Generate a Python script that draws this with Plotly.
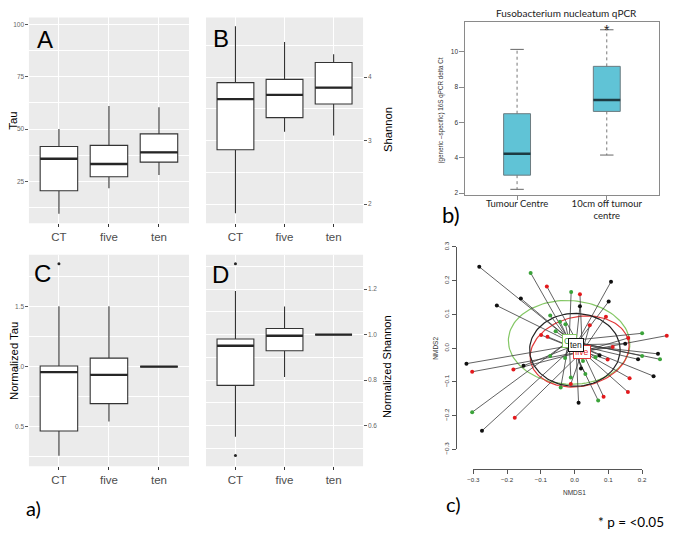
import numpy as np
import plotly.graph_objects as go

W, H = 675, 536

# ---------------- data ----------------
groups = ["CT", "five", "ten"]
group_pos = [1, 2, 3]

# Panel A: Tau
tau_q1 = [20.5, 27.2, 34.2]
tau_med = [35.8, 33.3, 38.9]
tau_q3 = [41.7, 42.2, 47.7]
tau_lo = [9.5, 21.7, 28.0]
tau_hi = [50.0, 61.1, 60.5]

# Panel B: Shannon
sh_q1 = [2.858, 3.363, 3.579]
sh_med = [3.656, 3.722, 3.836]
sh_q3 = [3.914, 3.965, 4.231]
sh_lo = [1.855, 3.142, 3.080]
sh_hi = [4.802, 4.556, 4.361]

# Panel C: Normalized Tau
ntau_q1 = [0.466, 0.693, 1.0]
ntau_med = [0.954, 0.932, 1.0]
ntau_q3 = [1.005, 1.070, 1.0]
ntau_lo = [0.260, 0.545, 1.0]
ntau_hi = [1.500, 1.500, 1.0]
ntau_out_pos = [1]
ntau_out_val = [1.854]

# Panel D: Normalized Shannon
nsh_q1 = [0.777, 0.929, 1.0]
nsh_med = [0.951, 0.995, 1.0]
nsh_q3 = [0.981, 1.027, 1.0]
nsh_lo = [0.551, 0.814, 1.0]
nsh_hi = [1.191, 1.123, 1.0]
nsh_out_pos = [1, 1]
nsh_out_val = [1.311, 0.469]

# Panel b: qPCR
qpcr_cats = ["Tumour Centre", "10cm off tumour<br>centre"]
qpcr_pos = [1, 2]
qpcr_q1 = [3.01, 6.62]
qpcr_med = [4.22, 7.27]
qpcr_q3 = [6.49, 9.17]
qpcr_lo = [2.21, 4.15]
qpcr_hi = [10.13, 11.24]

# Panel c: NMDS
ten_x = [-0.283, -0.160, -0.231, 0.107, 0.100, 0.015, 0.149, 0.246, 0.187, 0.233,
         -0.321, -0.152, -0.275, 0.011, 0.018, 0.073]
ten_y = [0.241, 0.147, 0.126, 0.197, 0.138, 0.124, 0.013, -0.017, -0.033, -0.083,
         -0.046, -0.052, -0.245, -0.162, -0.060, -0.021]
five_x = [-0.083, 0.015, 0.044, 0.092, -0.100, -0.081, 0.158, 0.272, 0.112, 0.097,
          -0.304, -0.182, 0.162, 0.157, 0.085, -0.012, -0.178]
five_y = [0.183, 0.160, 0.068, 0.093, 0.039, 0.034, 0.030, 0.037, 0.003, -0.034,
          -0.070, -0.063, -0.089, -0.130, -0.144, -0.106, -0.206]
ct_x = [-0.131, -0.011, -0.073, -0.044, -0.028, -0.057, 0.199, 0.199, 0.252, -0.073,
        -0.029, 0.024, 0.031, -0.012, -0.042, 0.069, -0.304, 0.061]
ct_y = [0.223, 0.166, 0.097, 0.078, 0.071, 0.050, 0.044, -0.023, -0.033, -0.023,
        -0.029, -0.038, -0.077, -0.087, -0.117, -0.155, -0.190, -0.027]
centroid_names = ["CT", "five", "ten"]
centroid_x = [-0.017, 0.022, 0.003]
centroid_y = [0.022, -0.010, 0.010]
ell_cx = [-0.017, 0.014, 0.000]
ell_cy = [0.017, -0.010, -0.005]
ell_rx = [0.180, 0.148, 0.134]
ell_ry = [0.124, 0.103, 0.108]
ell_ang = [-3.0, 12.0, 0.0]

# ---------------- helpers ----------------
def fx(px):
    return px / W

def fy(py):
    return 1 - py / H

fig = go.Figure()

GG_FONT = "Liberation Sans, Arial, sans-serif"
R_FONT = "Lato, Liberation Sans, sans-serif"


def add_gg_panel(xa, ya, q1, med, q3, lo, hi, out_pos=None, out_val=None):
    for i in range(len(groups)):
        pos = group_pos[i]
        fig.add_trace(go.Box(
            x=[pos], q1=[q1[i]], median=[med[i]], q3=[q3[i]],
            lowerfence=[lo[i]], upperfence=[hi[i]], width=0.75, whiskerwidth=0,
            fillcolor="white", line=dict(color="#333333", width=1.1),
            boxpoints=False, xaxis=xa, yaxis=ya, showlegend=False, hoverinfo="skip"))
        fig.add_trace(go.Scatter(
            x=[pos - 0.375, pos + 0.375], y=[med[i], med[i]], mode="lines",
            line=dict(color="#262626", width=2.3), xaxis=xa, yaxis=ya,
            showlegend=False, hoverinfo="skip"))
    if out_pos:
        fig.add_trace(go.Scatter(
            x=out_pos, y=out_val, mode="markers",
            marker=dict(color="#262626", size=3), xaxis=xa, yaxis=ya,
            showlegend=False, hoverinfo="skip"))


add_gg_panel("x", "y", tau_q1, tau_med, tau_q3, tau_lo, tau_hi)
add_gg_panel("x2", "y2", sh_q1, sh_med, sh_q3, sh_lo, sh_hi)
add_gg_panel("x3", "y3", ntau_q1, ntau_med, ntau_q3, ntau_lo, ntau_hi, ntau_out_pos, ntau_out_val)
add_gg_panel("x4", "y4", nsh_q1, nsh_med, nsh_q3, nsh_lo, nsh_hi, nsh_out_pos, nsh_out_val)

# ---- qPCR panel ----
for i in range(2):
    pos = qpcr_pos[i]
    fig.add_trace(go.Scatter(
        x=[pos, pos, None, pos, pos], y=[qpcr_q3[i], qpcr_hi[i], None, qpcr_q1[i], qpcr_lo[i]],
        mode="lines", line=dict(color="#777777", width=1, dash="dot"),
        xaxis="x5", yaxis="y5", showlegend=False, hoverinfo="skip"))
    fig.add_trace(go.Scatter(
        x=[pos - 0.075, pos + 0.075, None, pos - 0.075, pos + 0.075],
        y=[qpcr_hi[i], qpcr_hi[i], None, qpcr_lo[i], qpcr_lo[i]],
        mode="lines", line=dict(color="#666666", width=1),
        xaxis="x5", yaxis="y5", showlegend=False, hoverinfo="skip"))
    fig.add_trace(go.Box(
        x=[pos], q1=[qpcr_q1[i]], median=[qpcr_med[i]], q3=[qpcr_q3[i]],
        lowerfence=[qpcr_q1[i]], upperfence=[qpcr_q3[i]], width=0.30, whiskerwidth=0,
        fillcolor="#60C3D6", line=dict(color="#6b7b80", width=1),
        boxpoints=False, xaxis="x5", yaxis="y5", showlegend=False, hoverinfo="skip"))
    fig.add_trace(go.Scatter(
        x=[pos - 0.15, pos + 0.15], y=[qpcr_med[i], qpcr_med[i]], mode="lines",
        line=dict(color="#1d3b42", width=2.6), xaxis="x5", yaxis="y5",
        showlegend=False, hoverinfo="skip"))

# ---- NMDS panel ----
grp_x = [ct_x, five_x, ten_x]
grp_y = [ct_y, five_y, ten_y]
pt_colors = ["#3BA33A", "#E3191C", "#111111"]
ell_colors = ["#84C765", "#E23A3A", "#222222"]

# decoration axes trace (empty) - drawn first
fig.add_trace(go.Scatter(x=[None], y=[None], xaxis="x7", yaxis="y7", showlegend=False,
                         hoverinfo="skip"))

# ellipses
for g in range(3):
    t = np.linspace(0, 2 * np.pi, 120)
    a = np.deg2rad(ell_ang[g])
    ex = ell_cx[g] + ell_rx[g] * np.cos(t) * np.cos(a) - ell_ry[g] * np.sin(t) * np.sin(a)
    ey = ell_cy[g] + ell_rx[g] * np.cos(t) * np.sin(a) + ell_ry[g] * np.sin(t) * np.cos(a)
    fig.add_trace(go.Scatter(x=ex, y=ey, mode="lines",
                             line=dict(color=ell_colors[g], width=1.2),
                             xaxis="x6", yaxis="y6", showlegend=False, hoverinfo="skip"))
# spiders
for g in range(3):
    sx, sy = [], []
    for px_, py_ in zip(grp_x[g], grp_y[g]):
        sx += [px_, centroid_x[g], None]
        sy += [py_, centroid_y[g], None]
    fig.add_trace(go.Scatter(x=sx, y=sy, mode="lines",
                             line=dict(color="#3a3a3a", width=0.8),
                             xaxis="x6", yaxis="y6", showlegend=False, hoverinfo="skip"))
for g in range(3):
    fig.add_trace(go.Scatter(x=grp_x[g], y=grp_y[g], mode="markers",
                             marker=dict(color=pt_colors[g], size=4),
                             xaxis="x6", yaxis="y6", showlegend=False, hoverinfo="skip",
                             cliponaxis=False))

# ---------------- axes ----------------
def gg_xaxis(dom, anchor):
    return dict(domain=dom, anchor=anchor, range=[0.4, 3.6], tickmode="array",
                tickvals=group_pos, ticktext=groups, showgrid=True, gridcolor="white",
                gridwidth=1.1, zeroline=False, showline=False, ticks="outside", ticklen=3,
                tickwidth=0.8, tickcolor="#333333", ticklabelstandoff=0,
                tickfont=dict(family=GG_FONT, size=11.5, color="#4D4D4D"))


def gg_yaxis(dom, anchor, rng, dtick, mdtick, side="left", fmt=None):
    d = dict(domain=dom, anchor=anchor, range=rng, tick0=0, dtick=dtick, side=side,
             showgrid=True, gridcolor="white", gridwidth=1.1, zeroline=False,
             showline=False, ticks="outside", ticklen=2.5, tickwidth=0.8,
             tickcolor="#555555", tickfont=dict(family=GG_FONT, size=6.5, color="#666666"),
             minor=dict(tick0=0, dtick=mdtick, showgrid=True, gridcolor="white",
                        gridwidth=0.5))
    if fmt:
        d["tickformat"] = fmt
    return d


xA = [fx(23.3), fx(186.0)]
xB = [fx(203.3), fx(363.0)]
yTop = [fy(221.7), fy(11.7)]
yBot = [fy(470.0), fy(254.0)]

layout = dict(
    width=W, height=H, margin=dict(l=0, r=0, t=0, b=0),
    paper_bgcolor="white", plot_bgcolor="rgba(0,0,0,0)", showlegend=False,
    xaxis=gg_xaxis(xA, "y"),
    yaxis=gg_yaxis(yTop, "x", [5.0, 103.4], 25, 12.5),
    xaxis2=gg_xaxis(xB, "y2"),
    yaxis2=gg_yaxis(yTop, "x2", [1.701, 4.941], 1, 0.5, side="right"),
    xaxis3=gg_xaxis(xA, "y3"),
    yaxis3=gg_yaxis(yBot, "x3", [0.172, 1.928], 0.5, 0.25, fmt=".1f"),
    xaxis4=gg_xaxis(xB, "y4"),
    yaxis4=gg_yaxis(yBot, "x4", [0.4215, 1.3505], 0.2, 0.1, side="right", fmt=".1f"),
    xaxis5=dict(domain=[fx(467), fx(664)], anchor="y5", range=[0.424, 2.584],
                tickmode="array", tickvals=qpcr_pos, ticktext=qpcr_cats,
                showgrid=False, zeroline=False, showline=True, mirror=True,
                linecolor="#8a8a8a", linewidth=1, ticks="outside", ticklen=4,
                tickcolor="#8a8a8a", ticklabelstandoff=-5,
                tickfont=dict(family=R_FONT, size=9.5, color="#222222")),
    yaxis5=dict(domain=[fy(193.3), fy(16.7)], anchor="x5", range=[1.87, 11.66],
                tick0=0, dtick=2, showgrid=False, zeroline=False, showline=True,
                mirror=True, linecolor="#8a8a8a", linewidth=1, ticks="outside",
                ticklen=5, tickcolor="#8a8a8a",
                tickfont=dict(family=GG_FONT, size=6.5, color="#333333")),
    xaxis6=dict(domain=[fx(440), fx(675)], anchor="y6",
                range=[(440 - 578.3) / 343.4, (675 - 578.3) / 343.4],
                visible=False),
    yaxis6=dict(domain=[fy(480), fy(238)], anchor="x6",
                range=[(349.3 - 480) / 344.5, (349.3 - 238) / 344.5],
                visible=False),
    xaxis7=dict(domain=[fx(475.0), fx(646.7)], anchor="free", position=fy(473.0),
                range=[-0.3, 0.2], tick0=0, dtick=0.1, tickformat=".1f",
                showgrid=False, zeroline=False, showline=True, linecolor="#555555",
                linewidth=1, ticks="outside", ticklen=4, tickcolor="#555555",
                tickfont=dict(family=GG_FONT, size=6.2, color="#333333")),
    yaxis7=dict(domain=[fy(452.7), fy(246.0)], anchor="free", position=fx(457.0),
                range=[-0.3, 0.3], tick0=0, dtick=0.1, tickformat=".1f", tickangle=-90,
                showgrid=False, zeroline=False, showline=True, linecolor="#555555",
                linewidth=1, ticks="outside", ticklen=4, tickcolor="#555555",
                tickfont=dict(family=GG_FONT, size=6.2, color="#333333")),
)

# gray panel backgrounds
shapes = []
for xr, yr in [("x", "y"), ("x2", "y2"), ("x3", "y3"), ("x4", "y4")]:
    shapes.append(dict(type="rect", xref=xr + " domain", yref=yr + " domain",
                       x0=0, x1=1, y0=0, y1=1, fillcolor="#EBEBEB",
                       line=dict(width=0), layer="below"))
layout["shapes"] = shapes


def ann(text, px, py, size, family=GG_FONT, color="black", angle=0, **kw):
    d = dict(text=text, x=fx(px), y=fy(py), xref="paper", yref="paper",
             showarrow=False, textangle=angle,
             font=dict(family=family, size=size, color=color),
             xanchor="center", yanchor="middle")
    d.update(kw)
    return d


annotations = [
    ann("A", 40, 34, 24),
    ann("B", 219, 33, 24),
    ann("C", 37, 273, 24),
    ann("D", 218, 274, 24),
    ann("Tau", 7.5, 116.7, 11.3, angle=-90),
    ann("Shannon", 389, 126, 11.3, angle=-90),
    ann("Normalized Tau", 7.5, 362, 11.3, angle=-90),
    ann("Normalized Shannon", 388, 368, 11, angle=-90),
    ann("a)", 28, 513, 20, family=R_FONT),
    ann("b)", 452, 213, 22, family=R_FONT),
    ann("c)", 455, 508, 20, family=R_FONT),
    ann("* p = <0.05", 671, 527, 13.5, family=R_FONT, xanchor="right"),
    ann("Fusobacterium nucleatum qPCR", 570, 7, 10, family=R_FONT, color="#222222"),
    ann("(generic \u2013specific) 16S qPCR delta Ct", 442, 107, 6.3, color="#333333", angle=-90),
    ann("NMDS1", 578, 497, 6.5, color="#333333"),
    ann("NMDS2", 437, 349, 6.5, color="#333333", angle=-90),
    dict(text="*", x=2, y=qpcr_hi[1], xref="x5", yref="y5", showarrow=False,
         font=dict(family=GG_FONT, size=14, color="#222222"), yanchor="middle"),
]
for g in range(3):
    annotations.append(dict(text=centroid_names[g], x=centroid_x[g], y=centroid_y[g],
                            xref="x6", yref="y6", showarrow=False,
                            font=dict(family=GG_FONT, size=8.5, color="#111111" if g == 2 else pt_colors[g]),
                            bgcolor="white", bordercolor=ell_colors[g] if g < 2 else "#111111",
                            borderwidth=1, borderpad=1))
layout["annotations"] = annotations

fig.update_layout(**layout)
fig.write_html("out.html", config={"displayModeBar": False},
               post_script="document.body.style.margin='0';")
